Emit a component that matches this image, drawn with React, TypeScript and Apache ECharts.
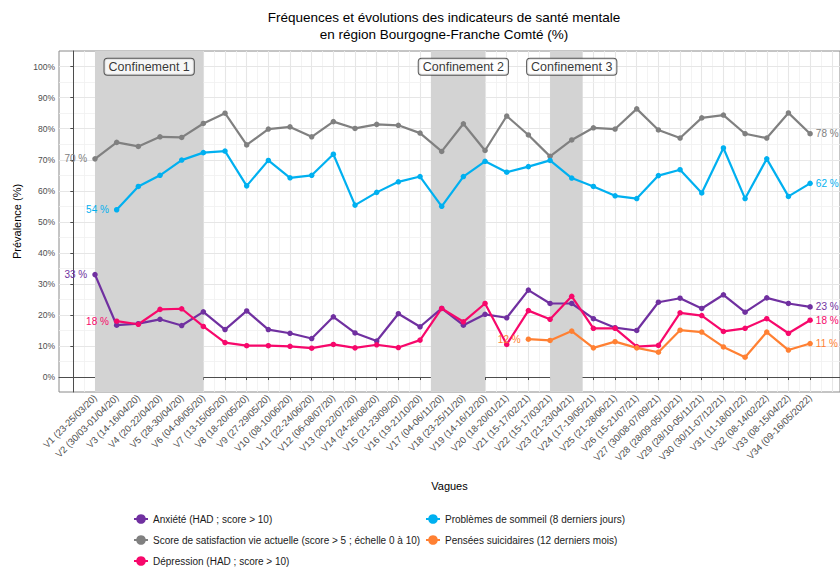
import React, { useEffect, useRef } from 'react';
import * as echarts from 'echarts';

const vagues = [
  'V1 (23-25/03/20)', 'V2 (30/03-01/04/20)', 'V3 (14-16/04/20)', 'V4 (20-22/04/20)',
  'V5 (28-30/04/20)', 'V6 (04-06/05/20)', 'V7 (13-15/05/20)', 'V8 (18-20/05/20)',
  'V9 (27-29/05/20)', 'V10 (08-10/06/20)', 'V11 (22-24/06/20)', 'V12 (06-08/07/20)',
  'V13 (20-22/07/20)', 'V14 (24-26/08/20)', 'V15 (21-23/09/20)', 'V16 (19-21/10/20)',
  'V17 (04-06/11/20)', 'V18 (23-25/11/20)', 'V19 (14-16/12/20)', 'V20 (18-20/01/21)',
  'V21 (15-17/02/21)', 'V22 (15-17/03/21)', 'V23 (21-23/04/21)', 'V24 (17-19/05/21)',
  'V25 (21-28/06/21)', 'V26 (15-21/07/21)', 'V27 (30/08-07/09/21)', 'V28 (28/09-05/10/21)',
  'V29 (28/10-05/11/21)', 'V30 (30/11-07/12/21)', 'V31 (11-18/01/22)', 'V32 (08-14/02/22)',
  'V33 (08-15/04/22)', 'V34 (09-16/05/2022)',
];

const anxiete = [33.0, 16.7, 17.2, 18.6, 16.6, 21.0, 15.3, 21.3, 15.3, 14.1, 12.4, 19.4, 14.2, 11.6, 20.4, 16.2, 22.1,
  16.7, 20.2, 19.1, 28.0, 23.7, 23.7, 18.8, 15.9, 15.0, 24.1, 25.4, 22.1, 26.5, 20.9, 25.5, 23.7, 22.6];
const satisfaction = [70.3, 75.6, 74.3, 77.4, 77.2, 81.7, 85.0, 74.8, 79.9, 80.6, 77.4, 82.3, 80.1, 81.4, 81.1, 78.6, 72.7,
  81.6, 73.0, 84.1, 78.0, 71.1, 76.4, 80.3, 79.9, 86.4, 79.6, 77.0, 83.5, 84.4, 78.4, 77.0, 85.1, 78.4];
const depression = [null, 18.0, 17.0, 21.8, 22.0, 16.3, 11.1, 10.1, 10.1, 9.9, 9.3, 10.5, 9.4, 10.4, 9.5, 11.9, 22.1,
  17.8, 23.7, 10.5, 21.4, 18.6, 26.0, 15.7, 15.7, 9.8, 10.2, 20.7, 19.8, 14.7, 15.7, 18.8, 14.1, 18.3];
const sommeil = [null, 53.9, 61.4, 65.0, 69.9, 72.3, 72.8, 61.6, 69.8, 64.2, 65.0, 71.8, 55.4, 59.5, 62.9, 64.6, 55.0,
  64.6, 69.5, 66.0, 67.8, 69.8, 64.1, 61.4, 58.4, 57.5, 64.9, 66.8, 59.3, 73.8, 57.5, 70.3, 58.2, 62.4];
const suicidaires = [null, null, null, null, null, null, null, null, null, null, null, null, null, null, null, null, null,
  null, null, null, 12.2, 11.8, 14.8, 9.4, 11.4, 9.4, 8.0, 15.1, 14.5, 9.7, 6.4, 14.5, 8.7, 10.8];

const seriesNames = [
  'Anxiété (HAD ; score > 10)',
  'Score de satisfaction vie actuelle (score > 5 ; échelle 0 à 10)',
  'Dépression (HAD ; score > 10)',
  'Problèmes de sommeil (8 derniers jours)',
  'Pensées suicidaires (12 derniers mois)',
];
const seriesValues = [anxiete, satisfaction, depression, sommeil, suicidaires];
const seriesColors = ['#7030A0', '#808080', '#F7086B', '#00B0F0', '#FF8033'];

const confinements = [
  { name: 'Confinement 1', start: 1, end: 6, labelX: 3.5 },
  { name: 'Confinement 2', start: 16.5, end: 19, labelX: 18 },
  { name: 'Confinement 3', start: 22, end: 23.5, labelX: 23 },
];

const yTicks = [0, 10, 20, 30, 40, 50, 60, 70, 80, 90, 100];

// legend placement: [left, top] per series
const legendPos = [
  [133, 514], [133, 535], [133, 556], [425, 514], [425, 535],
];

function buildData(values: (number | null)[], color: string) {
  const present = values.map((v, i) => (v == null ? -1 : i)).filter((i) => i >= 0);
  const first = present[0];
  const last = present[present.length - 1];
  const out: any[] = [];
  values.forEach((v, i) => {
    if (v == null) return;
    const item: any = { value: [i + 1, v] };
    if (i === first || i === last) {
      item.label = {
        show: true,
        position: i === first ? 'left' : 'right',
        distance: i === first ? 5 : 3,
        color,
        fontSize: 10,
        fontFamily: 'Liberation Sans, Arial, sans-serif',
        formatter: (p: any) => Math.round(p.value[1]) + ' %',
      };
    }
    out.push(item);
  });
  return out;
}

export default function App() {
  const ref = useRef<HTMLDivElement>(null);
  useEffect(() => {
    document.body.style.margin = '0';
    const chart = echarts.init(ref.current!, null, { renderer: 'svg' });
    const font = 'Liberation Sans, Arial, sans-serif';

    const gridLines: any[] = [];
    for (let k = 0; k <= 71; k++) {
      const major = k % 2 === 0;
      gridLines.push({ xAxis: k / 2, lineStyle: { color: major ? '#e6e6e6' : '#f0f0f0', width: major ? 1.1 : 0.8, type: 'solid' } });
    }
    for (let y = 0; y <= 100; y += 5) {
      const major = y % 10 === 0;
      gridLines.push({ yAxis: y, lineStyle: { color: major ? '#e6e6e6' : '#f0f0f0', width: major ? 1.1 : 0.8, type: 'solid' } });
    }

    const lineSeries = seriesNames.map((name, i) => ({
      name,
      type: 'line',
      data: buildData(seriesValues[i], seriesColors[i]),
      color: seriesColors[i],
      lineStyle: { width: 2.2, color: seriesColors[i] },
      itemStyle: { color: seriesColors[i] },
      symbol: 'circle',
      symbolSize: 5.5,
      z: 3,
    }));

    const option: any = {
      animation: false,
      backgroundColor: '#ffffff',
      textStyle: { fontFamily: font },
      graphic: [
        {
          type: 'text', x: 444, y: 10,
          style: { text: 'Fréquences et évolutions des indicateurs de santé mentale', fill: '#000', font: `13.5px ${font}`, textAlign: 'center' },
        },
        {
          type: 'text', x: 444, y: 27,
          style: { text: 'en région Bourgogne-Franche Comté (%)', fill: '#000', font: `13.5px ${font}`, textAlign: 'center' },
        },
      ],
      grid: {
        left: 59, top: 51, right: 0, bottom: 177,
        show: true, borderColor: '#8a8a8a', borderWidth: 1, backgroundColor: '#fff',
      },
      legend: seriesNames.map((name, i) => ({
        data: [name],
        orient: 'horizontal',
        left: legendPos[i][0],
        top: legendPos[i][1],
        itemWidth: 14,
        itemHeight: 12,
        itemGap: 0,
        padding: 0,
        textStyle: { fontSize: 10, color: '#1a1a1a', fontFamily: font },
      })),
      xAxis: {
        type: 'value',
        min: -0.661,
        max: 35.38,
        name: 'Vagues',
        nameLocation: 'middle',
        nameGap: 88,
        nameTextStyle: { fontSize: 11, color: '#000', fontFamily: font },
        splitLine: { show: false },
        axisLine: { show: true, lineStyle: { color: '#4d4d4d', width: 1 } },
        axisTick: { show: true, length: 3, customValues: vagues.map((_, i) => i + 1), lineStyle: { color: '#4d4d4d' } },
        axisLabel: {
          customValues: vagues.map((_, i) => i + 1),
          formatter: (v: number) => vagues[Math.round(v) - 1] ?? '',
          rotate: 45,
          fontSize: 9.5,
          color: '#4d4d4d',
          margin: 4,
          fontFamily: font,
        },
      },
      yAxis: {
        type: 'value',
        min: -4.82,
        max: 105.05,
        name: 'Prévalence (%)',
        nameLocation: 'middle',
        nameRotate: 90,
        nameGap: 35,
        nameTextStyle: { fontSize: 11, color: '#000', fontFamily: font },
        splitLine: { show: false },
        axisLine: { show: true, lineStyle: { color: '#4d4d4d', width: 1 } },
        axisTick: { show: true, length: 3, customValues: yTicks, lineStyle: { color: '#4d4d4d' } },
        axisLabel: {
          customValues: yTicks,
          formatter: (v: number) => Math.round(v) + '%',
          fontSize: 8.5,
          color: '#4d4d4d',
          margin: 4,
          fontFamily: font,
        },
      },
      series: [
        {
          name: '__grid',
          type: 'line',
          data: [],
          silent: true,
          markLine: {
            z: 0,
            silent: true,
            symbol: ['none', 'none'],
            label: { show: false },
            data: gridLines,
          },
        },
        {
          name: '__conf',
          type: 'line',
          data: [],
          silent: true,
          markArea: {
            z: 1,
            silent: true,
            itemStyle: { color: '#d3d3d3', opacity: 1 },
            label: { show: false },
            data: confinements.map((c) => [{ xAxis: c.start }, { xAxis: c.end }]),
          },
        },
        ...lineSeries,
        {
          name: '__labels',
          type: 'scatter',
          symbolSize: 0,
          silent: true,
          z: 5,
          data: confinements.map((c) => ({ name: c.name, value: [c.labelX, 100] })),
          label: {
            show: true,
            position: 'inside',
            formatter: '{b}',
            fontSize: 12.5,
            color: '#000',
            fontFamily: font,
            backgroundColor: '#fff',
            borderColor: '#333',
            borderWidth: 1,
            borderRadius: 3,
            padding: [2, 4, 1, 4],
          },
        },
      ],
    };
    chart.setOption(option);
    return () => chart.dispose();
  }, []);
  return <div ref={ref} style={{ width: 840, height: 569 }} />;
}
